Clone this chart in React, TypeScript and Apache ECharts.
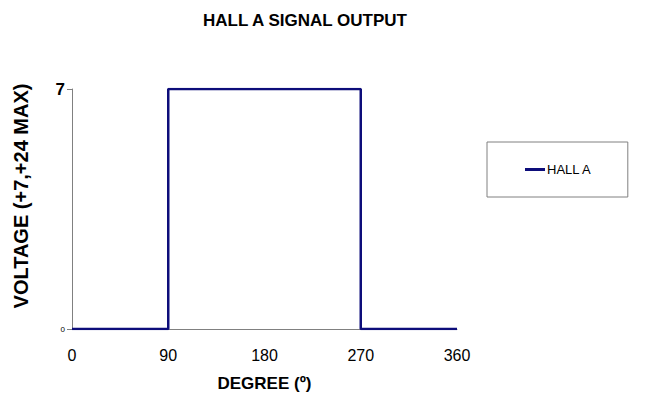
import React, { useEffect, useRef } from "react";
import * as echarts from "echarts";

const title = "HALL A SIGNAL OUTPUT";
const seriesName = "HALL A";
const degrees = [0, 90, 90, 270, 270, 360];
const voltages = [0, 0, 7, 7, 0, 0];
const xTicks = [0, 90, 180, 270, 360];
const yTicks = [0, 7];

const FONT = "Arial";

export default function App() {
  const ref = useRef<HTMLDivElement>(null);
  useEffect(() => {
    const chart = echarts.init(ref.current!, null, { renderer: "svg" });
    chart.setOption({
      animation: false,
      backgroundColor: "#ffffff",
      textStyle: { fontFamily: FONT },
      title: {
        text: title,
        left: 300,
        textAlign: "center",
        top: 7,
        textStyle: { fontFamily: FONT, fontWeight: "bold", fontSize: 17, color: "#000" },
      },
      legend: {
        data: [seriesName],
        left: 487,
        top: 142,
        padding: [21, 36, 21, 38],
        borderColor: "#808080",
        borderWidth: 1,
        icon: "rect",
        itemWidth: 20,
        itemHeight: 3,
        itemGap: 0,
        textStyle: { fontFamily: FONT, fontSize: 13, color: "#000", padding: [0, 0, 0, -3] },
      },
      grid: { left: 72, right: 193, top: 89, bottom: 79, containLabel: false },
      xAxis: {
        type: "value",
        min: xTicks[0],
        max: xTicks[xTicks.length - 1],
        interval: 90,
        name: "DEGREE (º)",
        nameLocation: "middle",
        nameGap: 46,
        nameTextStyle: { fontFamily: FONT, fontWeight: "bold", fontSize: 17, color: "#000" },
        axisLine: { lineStyle: { color: "#808080", width: 1 } },
        axisTick: { show: false },
        splitLine: { show: false },
        axisLabel: { fontFamily: FONT, fontSize: 16, color: "#000", margin: 18 },
      },
      yAxis: {
        type: "value",
        min: yTicks[0],
        max: yTicks[1],
        interval: 7,
        axisLine: { show: true, lineStyle: { color: "#808080", width: 1 } },
        axisTick: { show: true, length: 5, lineStyle: { color: "#808080" } },
        splitLine: { show: false },
        axisLabel: {
          margin: 7,
          fontFamily: FONT,
          formatter: (v: number) => (v === 7 ? "{big|7}" : "{small|" + v + "}"),
          rich: {
            big: { fontFamily: FONT, fontWeight: "bold", fontSize: 17, color: "#000" },
            small: { fontFamily: FONT, fontSize: 8, color: "#000" },
          },
        },
      },
      graphic: [
        {
          type: "text",
          x: 21,
          y: 196,
          rotation: Math.PI / 2,
          style: {
            text: "VOLTAGE (+7,+24 MAX)",
            fontFamily: FONT,
            fontWeight: "bold",
            fontSize: 20,
            fill: "#000",
            textAlign: "center",
            textVerticalAlign: "middle",
          },
        },
      ],
      series: [
        {
          name: seriesName,
          type: "line",
          data: degrees.map((d, i) => [d, voltages[i]]),
          showSymbol: false,
          symbol: "none",
          color: "#0d0d7a",
          lineStyle: { color: "#0d0d7a", width: 2.5 },
        },
      ],
    });
    return () => chart.dispose();
  }, []);
  return <div ref={ref} style={{ width: 650, height: 408, position: "absolute", left: 0, top: 0 }} />;
}
